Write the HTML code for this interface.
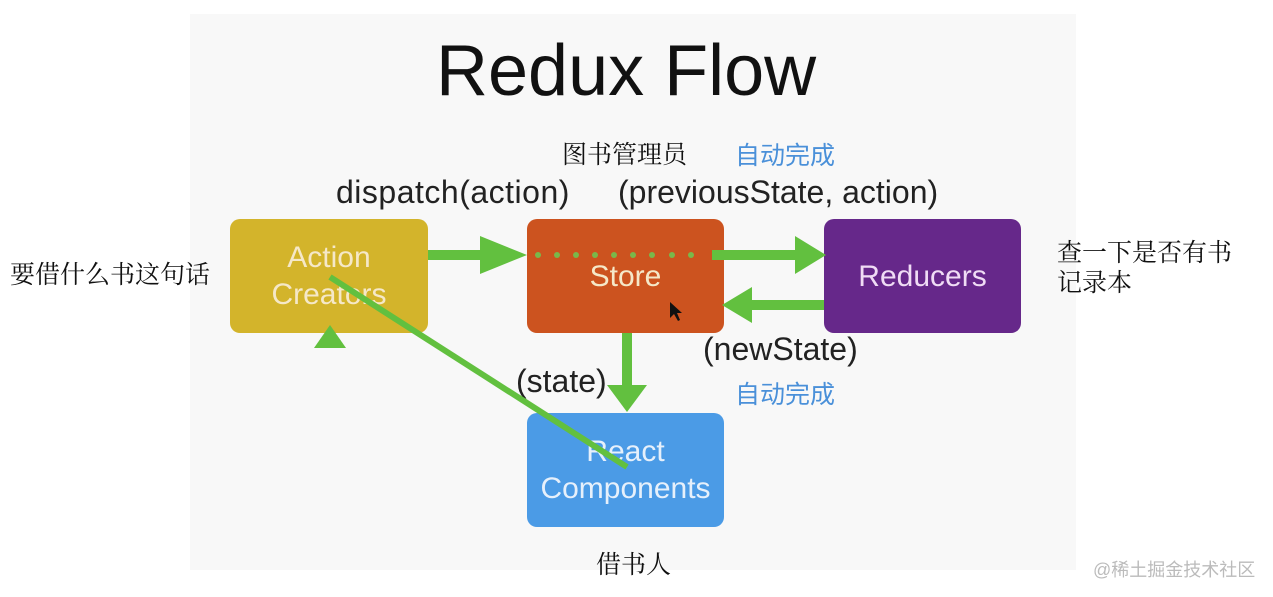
<!DOCTYPE html>
<html><head><meta charset="utf-8"><style>
body{margin:0;width:1273px;height:597px;background:#fff;position:relative;overflow:hidden;font-family:"Liberation Sans",sans-serif}
.bg{position:absolute;left:190px;top:14px;width:886px;height:556px;background:#f8f8f8}
.t{position:absolute;white-space:nowrap}
.cn{font-family:"Liberation Serif","Noto Serif CJK SC",serif;font-size:25px;color:#111}
.bl{font-family:"Liberation Sans","Noto Sans CJK SC",sans-serif;font-size:25px;color:#4a90d9}
.box{position:absolute;border-radius:10px;color:#f5e8c8;font-size:30px;text-align:center;display:flex;align-items:center;justify-content:center;line-height:37px}
.lb{font-size:32px;color:#222}
</style></head><body>
<div class="bg"></div>
<div class="t" style="left:436px;top:30px;font-size:72px;color:#111">Redux Flow</div>
<div class="t cn" style="left:562px;top:135px">图书管理员</div>
<div class="t bl" style="left:735px;top:136px">自动完成</div>
<div class="t lb" style="left:336px;top:174px;letter-spacing:0.5px">dispatch(action)</div>
<div class="t lb" style="left:618px;top:174px">(previousState, action)</div>
<div class="t cn" style="left:10px;top:255px">要借什么书这句话</div>
<div class="t cn" style="left:1057px;top:239px;line-height:30px">查一下是否有书<br>记录本</div>
<div class="box" style="left:230px;top:219px;width:198px;height:114px;background:#d3b42b">Action<br>Creators</div>
<div class="box" style="left:527px;top:219px;width:197px;height:114px;background:#cc531f">Store</div>
<div class="box" style="left:824px;top:219px;width:197px;height:114px;background:#66288a;color:#f0dcf5">Reducers</div>
<div class="box" style="left:527px;top:413px;width:197px;height:114px;background:#4b9be6;color:#e6f0fb">React<br>Components</div>
<div class="t lb" style="left:703px;top:331px">(newState)</div>
<div class="t lb" style="left:516px;top:363px">(state)</div>
<div class="t bl" style="left:735px;top:375px">自动完成</div>
<div class="t cn" style="left:596px;top:545px">借书人</div>
<div class="t" style="left:1093px;top:556px;font-family:'Liberation Sans','Noto Sans CJK SC',sans-serif;font-size:18px;color:#bbb">@稀土掘金技术社区</div>
<svg width="1273" height="597" style="position:absolute;left:0;top:0">
<g fill="#62c03f" stroke="none">
<rect x="428" y="250" width="55" height="10"/><polygon points="480,236 527,255 480,274"/>
<rect x="712" y="250" width="86" height="10"/><polygon points="795,236 826,255 795,274"/>
<rect x="748" y="300" width="76" height="10"/><polygon points="752,287 722,305 752,323"/>
<rect x="622" y="333" width="10" height="56"/><polygon points="607,385 647,385 627,412"/>
<polygon points="314,348 346,348 330,325"/>
<g fill="#7ab84a"><circle cx="538" cy="255" r="3"/><circle cx="557" cy="255" r="3"/><circle cx="576" cy="255" r="3"/><circle cx="595" cy="255" r="3"/><circle cx="614" cy="255" r="3"/><circle cx="633" cy="255" r="3"/><circle cx="652" cy="255" r="3"/><circle cx="672" cy="255" r="3"/><circle cx="691" cy="255" r="3"/></g>
</g>
<line x1="330" y1="277" x2="627" y2="467" stroke="#62c03f" stroke-width="6"/>
<polygon points="670,302 670,318 674,314 678,321 680,320 677,313 682,313" fill="#111"/>
</svg>
</body></html>
